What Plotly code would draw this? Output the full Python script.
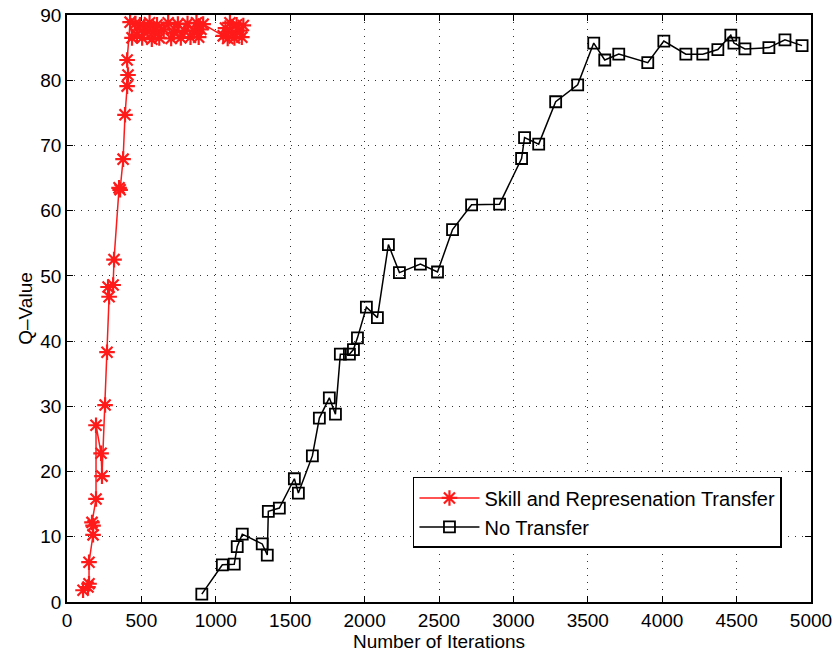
import plotly.graph_objects as go

# Skill and Representation Transfer: Q-value vs. iterations
skill_x = [108, 141, 148, 148, 175, 175, 168, 195, 195, 229, 235, 256, 269, 283, 276, 310, 316,
           350, 357, 377, 390, 404, 410, 404, 424, 437,
           460, 470, 490, 505, 520, 540, 555, 570, 590, 605, 620, 650, 680, 700, 720, 745,
           765, 790, 810, 830, 855, 870, 885, 900, 915,
           1050, 1065, 1080, 1095, 1110, 1125, 1140, 1160, 1175, 1185]
skill_y = [1.8, 2.3, 2.8, 6.1, 10.3, 11.7, 12.2, 15.8, 27.1, 22.8, 19.3, 30.2, 38.3, 46.8, 48.3, 48.6, 52.5,
           63.5, 63.2, 67.9, 74.7, 79.1, 80.8, 83.1, 88.9, 86.5,
           88.7, 87.0, 88.5, 86.5, 88.2, 87.5, 88.8, 86.3, 87.6, 88.5, 86.5, 87.8, 88.8, 86.4, 87.3, 88.6,
           86.5, 87.6, 88.7, 86.6, 87.5, 88.8, 86.6, 87.8, 88.6,
           86.8, 88.0, 86.4, 88.8, 87.2, 86.5, 88.5, 87.6, 86.6, 88.4]

# No Transfer: Q-value vs. iterations
none_x = [906, 1044, 1124, 1144, 1178, 1312, 1346, 1353, 1427, 1528, 1555, 1649, 1696, 1763, 1804,
          1837, 1898, 1925, 1952, 2012, 2086, 2160, 2234, 2375, 2490, 2591, 2719, 2907,
          3055, 3075, 3170, 3284, 3432, 3540, 3614, 3708, 3903, 4011, 4159, 4273, 4374,
          4461, 4482, 4556, 4717, 4825, 4940]
none_y = [1.2, 5.7, 5.8, 8.5, 10.4, 8.9, 7.2, 13.9, 14.4, 18.9, 16.7, 22.4, 28.2, 31.3, 28.8,
          38.0, 38.0, 38.7, 40.5, 45.2, 43.6, 54.8, 50.5, 51.8, 50.6, 57.1, 60.9, 61.0,
          68.0, 71.2, 70.2, 76.7, 79.3, 85.7, 83.1, 84.0, 82.7, 86.0, 84.0, 84.0, 84.7,
          86.9, 85.7, 84.8, 85.0, 86.2, 85.3]

x_ticks = [0, 500, 1000, 1500, 2000, 2500, 3000, 3500, 4000, 4500, 5000]
y_ticks = [0, 10, 20, 30, 40, 50, 60, 70, 80, 90]

font_family = "Liberation Sans, Arial, sans-serif"

fig = go.Figure()
fig.add_trace(go.Scatter(
    x=skill_x, y=skill_y, mode="lines+markers",
    name="Skill and Represenation Transfer",
    line=dict(color="#ff1a1a", width=1.5),
    marker=dict(symbol="asterisk-open", size=13, color="#ff1a1a",
                line=dict(color="#ff1a1a", width=2.2)),
))
fig.add_trace(go.Scatter(
    x=none_x, y=none_y, mode="lines+markers",
    name="No Transfer",
    line=dict(color="black", width=1.5),
    marker=dict(symbol="square-open", size=11, color="black",
                line=dict(color="black", width=1.8)),
))

axis_common = dict(
    showline=True, linecolor="black", linewidth=1.5, mirror="all",
    ticks="inside", ticklen=6, tickcolor="black", tickwidth=1,
    showgrid=True, gridcolor="rgba(0,0,0,0.8)", griddash="1px,6px", gridwidth=1.2,
    zeroline=False, automargin=False,
    tickfont=dict(family=font_family, size=19, color="black"),
)

fig.update_xaxes(
    range=[0, 5000], tickvals=x_ticks, ticktext=[str(t) for t in x_ticks],
    title=dict(text="Number of Iterations", font=dict(family=font_family, size=19, color="black"),
               standoff=4),
    **axis_common,
)
fig.update_yaxes(
    range=[0, 90], tickvals=y_ticks, ticktext=[str(t) for t in y_ticks],
    title=dict(text="Q\u2013Value", font=dict(family=font_family, size=19, color="black"),
               standoff=3),
    **axis_common,
)

fig.update_layout(
    width=837, height=656,
    margin=dict(l=67, r=26, t=15, b=54),
    paper_bgcolor="white", plot_bgcolor="white",
    font=dict(family=font_family, size=19, color="black"),
    legend=dict(
        x=0.465, y=0.213, xanchor="left", yanchor="top",
        bgcolor="white", bordercolor="black", borderwidth=1.5,
        font=dict(family=font_family, size=20, color="black"),
        itemwidth=60, tracegroupgap=0,
    ),
    showlegend=True,
)

fig.write_html("out.html")
